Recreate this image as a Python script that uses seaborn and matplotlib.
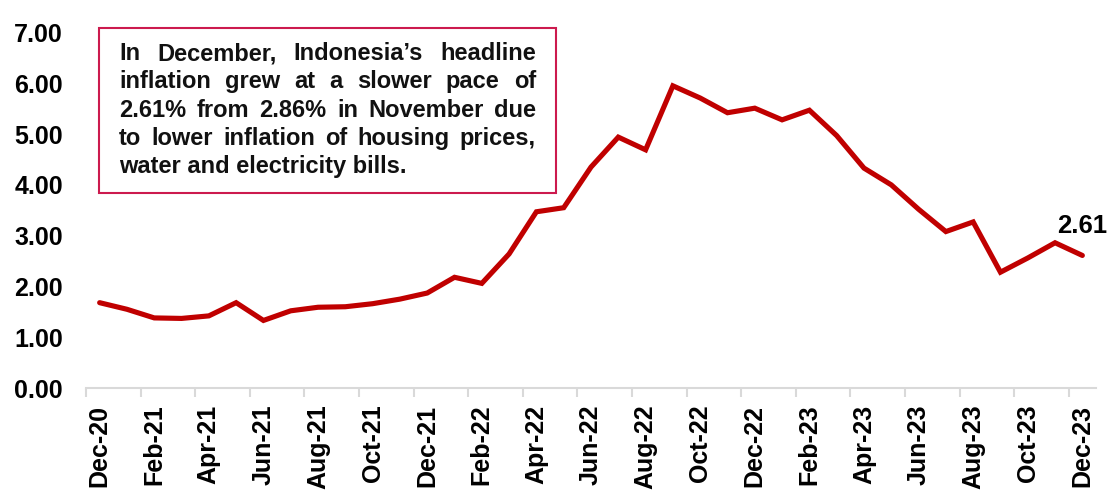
import matplotlib
matplotlib.use("Agg")
import matplotlib.pyplot as plt
import seaborn as sns
import pandas as pd
import numpy as np
from matplotlib.patches import Rectangle
from matplotlib.ticker import FixedLocator

months = ["Dec-20", "Jan-21", "Feb-21", "Mar-21", "Apr-21", "May-21", "Jun-21",
          "Jul-21", "Aug-21", "Sep-21", "Oct-21", "Nov-21", "Dec-21", "Jan-22",
          "Feb-22", "Mar-22", "Apr-22", "May-22", "Jun-22", "Jul-22", "Aug-22",
          "Sep-22", "Oct-22", "Nov-22", "Dec-22", "Jan-23", "Feb-23", "Mar-23",
          "Apr-23", "May-23", "Jun-23", "Jul-23", "Aug-23", "Sep-23", "Oct-23",
          "Nov-23", "Dec-23"]
inflation = [1.68, 1.55, 1.38, 1.37, 1.42, 1.68, 1.33, 1.52, 1.59, 1.60, 1.66,
             1.75, 1.87, 2.18, 2.06, 2.64, 3.47, 3.55, 4.35, 4.94, 4.69, 5.95,
             5.71, 5.42, 5.51, 5.28, 5.47, 4.97, 4.33, 4.00, 3.52, 3.08, 3.27,
             2.28, 2.56, 2.86, 2.61]
yticks = [0, 1, 2, 3, 4, 5, 6, 7]
box_lines = ["In December, Indonesia\u2019s headline",
             "inflation grew at a slower pace of",
             "2.61% from 2.86% in November due",
             "to lower inflation of housing prices,",
             "water and electricity bills."]

sns.set_theme(style="white")
plt.rcParams['font.family'] = ['Liberation Sans', 'DejaVu Sans']
plt.rcParams['font.weight'] = 'bold'

W, H = 1108, 492
fig = plt.figure(figsize=(W / 100, H / 100), dpi=100)
ax = fig.add_axes([86 / W, (H - 388) / H, (1096 - 86) / W, (388 - 32.5) / H])

df = pd.DataFrame({"pos": np.arange(len(months)), "value": inflation})
sns.lineplot(data=df, x="pos", y="value", ax=ax, color="#C00000", linewidth=3.7,
             solid_joinstyle="miter", solid_capstyle="round")

ax.set_xlim(-0.5, len(months) - 0.5)
ax.set_ylim(0, 7)
ax.set_xlabel("")
ax.set_ylabel("")

ax.set_yticks(yticks)
ax.set_yticklabels([f"{v:.2f}" for v in yticks], fontsize=18, fontweight="bold")
major = list(range(0, len(months), 2))
ax.set_xticks(major)
ax.set_xticklabels([months[i] for i in major], rotation=90, fontsize=18,
                   fontweight="bold", va="top", ha="center")
ax.xaxis.set_minor_locator(FixedLocator([i - 0.5 for i in range(0, len(months), 2)]))
ax.tick_params(axis="x", which="major", length=0, pad=12, colors="black")
ax.tick_params(axis="x", which="minor", length=6.5, width=1.5, color="#D9D9D9", bottom=True)
ax.tick_params(axis="y", length=0, pad=16.5, colors="black")

for s in ["top", "right", "left"]:
    ax.spines[s].set_visible(False)
ax.spines["bottom"].set_color("#D9D9D9")
ax.spines["bottom"].set_linewidth(1.5)
ax.grid(False)

ax.annotate(f"{inflation[-1]:.2f}", xy=(len(months) - 1, inflation[-1]),
            xytext=(0, 16.5), textcoords="offset points", ha="center",
            va="baseline", fontsize=18.5, fontweight="bold", color="black",
            annotation_clip=False)

# Text box
fig.patches.append(Rectangle((99 / W, (H - 193) / H), (556 - 99) / W, (193 - 28) / H,
                             transform=fig.transFigure, fill=False,
                             edgecolor="#CC1A4E", linewidth=1.5))

renderer = fig.canvas.get_renderer()
left_px, right_px = 119, 536
baselines = [60, 88.3, 116.6, 144.9, 173.2]
fs = 17
for li, (line, by) in enumerate(zip(box_lines, baselines)):
    words = line.split(" ")
    yf = (H - by) / H
    if li == len(box_lines) - 1:
        fig.text(left_px / W, yf, line, fontsize=fs, fontweight="bold",
                 color="#111111", va="baseline", ha="left")
        continue
    widths = []
    for w in words:
        t = fig.text(0, 0, w, fontsize=fs, fontweight="bold")
        bb = t.get_window_extent(renderer=renderer)
        widths.append(bb.width)
        t.remove()
    gap = (right_px - left_px - sum(widths)) / (len(words) - 1)
    x = left_px
    for w, wd in zip(words, widths):
        fig.text(x / W, yf, w, fontsize=fs, fontweight="bold", color="#111111",
                 va="baseline", ha="left")
        x += wd + gap

fig.savefig("out.png", dpi=100)
